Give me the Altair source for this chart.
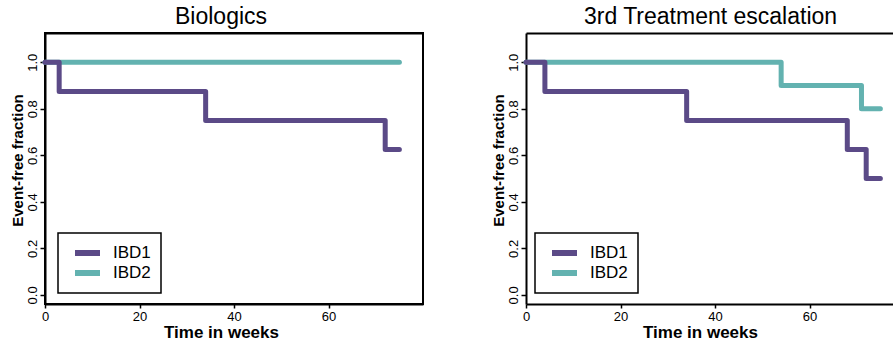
import altair as alt
import pandas as pd

groups = ["IBD1", "IBD2"]
group_colors = ["#5b4a87", "#63b2b0"]

bio_ibd1_weeks = [0, 3, 34, 72, 75]
bio_ibd1_frac = [1.0, 0.875, 0.75, 0.625, 0.625]
bio_ibd2_weeks = [0, 75]
bio_ibd2_frac = [1.0, 1.0]

esc_ibd1_weeks = [0, 4, 34, 68, 72, 75]
esc_ibd1_frac = [1.0, 0.875, 0.75, 0.625, 0.5, 0.5]
esc_ibd2_weeks = [0, 54, 71, 75]
esc_ibd2_frac = [1.0, 0.9, 0.8, 0.8]

x_ticks = [0, 20, 40, 60]
y_ticks = [0.0, 0.2, 0.4, 0.6, 0.8, 1.0]

FONT = "Liberation Sans"
PLOT_H = 271


def series(weeks, frac, group):
    return pd.DataFrame({"week": weeks, "frac": frac, "group": group})


def panel(ibd1, ibd2, title, width, xmax, title_dx, xtitle_x, legend_x, boxed):
    color = alt.Color(
        "group:N",
        scale=alt.Scale(domain=groups, range=group_colors),
        legend=alt.Legend(
            title=None, orient="none", legendX=legend_x, legendY=200,
            direction="vertical", symbolType="stroke", symbolSize=625,
            symbolStrokeWidth=6, labelFontSize=17, labelFont=FONT,
            labelColor="black", labelOffset=10, padding=10,
            strokeColor="black", symbolOffset=4, clipHeight=20, rowPadding=0,
        ),
    )
    yscale = alt.Scale(domain=[-0.039, 1.126], nice=False, zero=False)
    y = alt.Y(
        "frac:Q", scale=yscale,
        axis=alt.Axis(
            values=y_ticks, format=".1f", title="Event-free fraction",
            labelAngle=270, labelAlign="center", labelBaseline="bottom",
            labelFontSize=13, labelFont=FONT, labelColor="black", labelPadding=1,
            labelFlush=False,
            tickSize=5, tickColor="black", tickWidth=1.5,
            domain=True, domainColor="black", domainWidth=2, grid=False,
            titleFont=FONT, titleFontSize=15, titleFontWeight="bold",
            titleColor="black", titleAngle=270, titleAlign="center",
            titleBaseline="middle", titleX=-28, titleY=127,
        ),
    )
    xscale = alt.Scale(domain=[0, xmax], nice=False, zero=False)
    x_bottom = alt.X(
        "week:Q", scale=xscale,
        axis=alt.Axis(
            values=x_ticks, format="d", title="Time in weeks",
            labelFontSize=13, labelFont=FONT, labelColor="black", labelPadding=2,
            labelAngle=0, labelFlush=False,
            tickSize=4, tickColor="black", tickWidth=1.5,
            domain=True, domainColor="black", domainWidth=2, grid=False,
            titleFont=FONT, titleFontSize=17, titleFontWeight="bold",
            titleColor="black", titleAlign="center", titleBaseline="alphabetic",
            titleX=xtitle_x, titleY=33,
        ),
    )
    x_top = alt.X(
        "week:Q", scale=xscale,
        axis=alt.Axis(
            orient="top", labels=False, ticks=False, grid=False, title="",
            domain=True, domainColor="black", domainWidth=2,
        ),
    )
    line = dict(interpolate="step-after", strokeWidth=5, strokeCap="round",
                strokeJoin="round")
    teal = alt.Chart(ibd2).mark_line(**line).encode(x=x_top, y=y, color=color)
    purple = alt.Chart(ibd1).mark_line(**line).encode(x=x_bottom, y=y, color=color)
    props = dict(
        width=width, height=PLOT_H,
        title=alt.TitleParams(
            text=title, fontSize=23, font=FONT, fontWeight="normal",
            color="black", anchor="middle", dx=title_dx, offset=-14,
            baseline="alphabetic", frame="group",
        ),
    )
    if boxed:
        props["view"] = alt.ViewBackground(stroke="black", strokeWidth=2,
                                           strokeOpacity=1)
    return alt.layer(teal, purple).resolve_axis(x="independent").properties(**props)


left = panel(
    series(bio_ibd1_weeks, bio_ibd1_frac, "IBD1"),
    series(bio_ibd2_weeks, bio_ibd2_frac, "IBD2"),
    "Biologics", 378, 80, -13, 176, 13, True,
)
right = panel(
    series(esc_ibd1_weeks, esc_ibd1_frac, "IBD1"),
    series(esc_ibd2_weeks, esc_ibd2_frac, "IBD2"),
    "3rd Treatment escalation", 367, 367 / 378 * 80, 1, 174, 9, False,
)

chart = (
    alt.hconcat(left, right, spacing=103, bounds="flush")
    .resolve_scale(color="independent")
    .resolve_legend(color="independent")
    .properties(padding={"left": 9, "top": 5, "right": 0, "bottom": 0},
                background="white")
    .configure_view(strokeOpacity=0)
    .configure_legend(strokeWidth=1.5)
)

chart.save("out.html", embed_options={"renderer": "svg", "actions": False})
